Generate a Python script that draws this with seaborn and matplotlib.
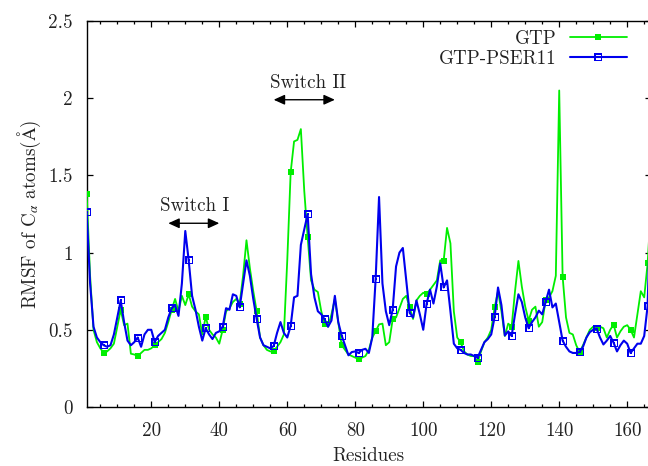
import numpy as np
import pandas as pd
import matplotlib
matplotlib.use("Agg")
import matplotlib.pyplot as plt
from matplotlib.path import Path
from matplotlib.ticker import MultipleLocator
import seaborn as sns

# ---------------- data ----------------
residues = list(range(1, 168))

gtp = [
    1.38, 0.85, 0.50, 0.42, 0.38, 0.35, 0.36, 0.38, 0.41, 0.52,   # 1-10
    0.63, 0.53, 0.54, 0.345, 0.34, 0.33, 0.35, 0.37, 0.37, 0.38,  # 11-20
    0.40, 0.42, 0.44, 0.48, 0.55, 0.63, 0.70, 0.62, 0.72, 0.66,   # 21-30
    0.73, 0.65, 0.62, 0.60, 0.47, 0.585, 0.50, 0.47, 0.45, 0.41,  # 31-40
    0.50, 0.62, 0.64, 0.68, 0.70, 0.67, 0.85, 1.08, 0.90, 0.75,   # 41-50
    0.62, 0.45, 0.40, 0.37, 0.36, 0.36, 0.39, 0.42, 0.47, 0.95,   # 51-60
    1.52, 1.72, 1.73, 1.80, 1.40, 1.10, 0.82, 0.76, 0.745, 0.62,  # 61-70
    0.54, 0.52, 0.60, 0.70, 0.55, 0.40, 0.37, 0.34, 0.33, 0.32,   # 71-80
    0.31, 0.32, 0.33, 0.37, 0.45, 0.49, 0.535, 0.54, 0.40, 0.42,  # 81-90
    0.567, 0.58, 0.64, 0.70, 0.72, 0.645, 0.57, 0.69, 0.72, 0.74, # 91-100
    0.73, 0.76, 0.79, 0.82, 0.95, 0.946, 1.16, 1.06, 0.62, 0.45,  # 101-110
    0.42, 0.36, 0.34, 0.33, 0.33, 0.29, 0.36, 0.42, 0.45, 0.50,   # 111-120
    0.645, 0.75, 0.62, 0.46, 0.54, 0.52, 0.75, 0.946, 0.78, 0.65, # 121-130
    0.56, 0.63, 0.65, 0.52, 0.55, 0.69, 0.71, 0.75, 0.85, 2.05,   # 131-140
    0.845, 0.58, 0.48, 0.47, 0.40, 0.356, 0.40, 0.45, 0.50, 0.52, # 141-150
    0.51, 0.52, 0.51, 0.45, 0.50, 0.534, 0.45, 0.49, 0.52, 0.53,  # 151-160
    0.50, 0.45, 0.60, 0.75, 0.71, 0.93, 1.30,                     # 161-167
]

gtp_pser11 = [
    1.26, 0.80, 0.52, 0.45, 0.42, 0.40, 0.39, 0.40, 0.47, 0.58,   # 1-10
    0.69, 0.55, 0.43, 0.40, 0.42, 0.45, 0.39, 0.47, 0.50, 0.50,   # 11-20
    0.42, 0.46, 0.48, 0.50, 0.58, 0.64, 0.66, 0.59, 0.80, 1.14,   # 21-30
    0.95, 0.72, 0.63, 0.52, 0.43, 0.51, 0.47, 0.44, 0.48, 0.49,   # 31-40
    0.52, 0.64, 0.63, 0.73, 0.72, 0.645, 0.80, 0.95, 0.85, 0.70,  # 41-50
    0.57, 0.45, 0.40, 0.39, 0.38, 0.395, 0.48, 0.55, 0.48, 0.45,  # 51-60
    0.525, 0.71, 0.72, 1.05, 1.15, 1.25, 0.86, 0.71, 0.62, 0.60,  # 61-70
    0.567, 0.52, 0.56, 0.72, 0.55, 0.463, 0.40, 0.335, 0.356, 0.36, # 71-80
    0.35, 0.37, 0.377, 0.35, 0.45, 0.83, 1.36, 0.80, 0.62, 0.53,  # 81-90
    0.63, 0.91, 1.00, 1.03, 0.82, 0.61, 0.58, 0.69, 0.60, 0.50,   # 91-100
    0.67, 0.76, 0.67, 0.78, 0.93, 0.774, 0.82, 0.62, 0.41, 0.38,  # 101-110
    0.37, 0.35, 0.34, 0.34, 0.33, 0.32, 0.37, 0.42, 0.44, 0.47,   # 111-120
    0.583, 0.774, 0.66, 0.463, 0.49, 0.46, 0.60, 0.73, 0.68, 0.58, # 121-130
    0.51, 0.55, 0.58, 0.624, 0.60, 0.68, 0.76, 0.645, 0.67, 0.55, # 131-140
    0.43, 0.39, 0.36, 0.35, 0.35, 0.356, 0.39, 0.45, 0.485, 0.50, # 141-150
    0.508, 0.45, 0.405, 0.43, 0.46, 0.416, 0.36, 0.40, 0.43, 0.41, # 151-160
    0.35, 0.38, 0.41, 0.41, 0.46, 0.654, 1.40,                    # 161-167
]

series_labels = ["GTP", "GTP-PSER11"]
x_ticks = [20, 40, 60, 80, 100, 120, 140, 160]
y_ticks = [0, 0.5, 1, 1.5, 2, 2.5]
y_ticklabels = ["0", "0.5", "1", "1.5", "2", "2.5"]

df = pd.DataFrame({"Residue": residues, "GTP": gtp, "GTP-PSER11": gtp_pser11})

# ---------------- style ----------------
sns.set_style("ticks")
plt.rcParams["font.family"] = ["cmr10", "DejaVu Serif"]
plt.rcParams["mathtext.fontset"] = "stix"
plt.rcParams["axes.formatter.use_mathtext"] = True
plt.rcParams["axes.unicode_minus"] = False

FS = 13.7
TXT = "#222222"
GREEN = "#00ee00"
BLUE = "#0000ee"

# open square with centre dot (gnuplot style)
verts, codes = [], []
def _sq(h, ccw=True):
    pts = [(-h, -h), (h, -h), (h, h), (-h, h)]
    if not ccw:
        pts = pts[::-1]
    verts.extend(pts + [pts[0]])
    codes.extend([Path.MOVETO, Path.LINETO, Path.LINETO, Path.LINETO, Path.CLOSEPOLY])
_sq(1.0, True)
_sq(0.6, False)
_sq(0.2, True)
box_dot = Path(verts, codes)

fig = plt.figure(figsize=(6.48, 4.66), dpi=100)
ax = fig.add_axes([86.7 / 648, 1 - 407 / 466, (651 - 86.7) / 648, 386 / 466])

sns.lineplot(data=df, x="Residue", y="GTP", ax=ax, color=GREEN, lw=1.3,
             marker="s", markersize=5.0, markevery=5, markeredgewidth=0,
             markerfacecolor=GREEN, markeredgecolor=GREEN,
             estimator=None, errorbar=None, sort=False, label=series_labels[0],
             zorder=3)
sns.lineplot(data=df, x="Residue", y="GTP-PSER11", ax=ax, color=BLUE, lw=1.5,
             marker=box_dot, markersize=6.0, markevery=5, markeredgewidth=0,
             markerfacecolor=BLUE, markeredgecolor=BLUE,
             estimator=None, errorbar=None, sort=False, label=series_labels[1],
             zorder=4)

ax.set_xlim(1, 167)
ax.set_ylim(0, 2.5)
ax.set_xticks(x_ticks)
ax.set_xticklabels([str(v) for v in x_ticks])
ax.xaxis.set_minor_locator(MultipleLocator(5))
ax.set_yticks(y_ticks)
ax.set_yticklabels(y_ticklabels)

ax.tick_params(which="both", direction="in", top=True, right=True,
               colors="black", labelcolor=TXT, labelsize=FS, width=0.9)
ax.tick_params(which="major", length=4.3)
ax.tick_params(which="minor", length=2.2)
ax.tick_params(axis="x", which="major", pad=11)
ax.tick_params(axis="y", which="major", pad=10)
for s in ax.spines.values():
    s.set_linewidth(1.0)
    s.set_color("black")
    s.set_visible(True)

ax.set_xlabel("Residues", fontsize=FS, color=TXT, labelpad=5)
ax.set_ylabel(r"RMSF of C$_\alpha$ atoms($\mathrm{Å}$)", fontsize=FS,
              color=TXT, labelpad=4)

# switch annotations
arrowprops = dict(arrowstyle="<|-|>,head_length=0.55,head_width=0.25",
                  color="black", lw=1.0, mutation_scale=12,
                  shrinkA=0, shrinkB=0)
ax.annotate("", xy=(25, 1.19), xytext=(40, 1.19), arrowprops=arrowprops)
ax.annotate("", xy=(56, 1.99), xytext=(74, 1.99), arrowprops=arrowprops)
ax.text(32.7, 1.30, "Switch I", fontsize=FS, color=TXT, ha="center", va="center")
ax.text(66.0, 2.10, "Switch II", fontsize=FS, color=TXT, ha="center", va="center")

leg = ax.legend(loc="upper right", bbox_to_anchor=(627 / 648, 1 - 30 / 466),
                bbox_transform=fig.transFigure, frameon=False, markerfirst=False,
                handlelength=3.0, handletextpad=0.7, labelspacing=0.12,
                borderpad=0, borderaxespad=0, fontsize=FS, numpoints=1)
for t in leg.get_texts():
    t.set_color(TXT)

fig.savefig("out.png", dpi=100)
